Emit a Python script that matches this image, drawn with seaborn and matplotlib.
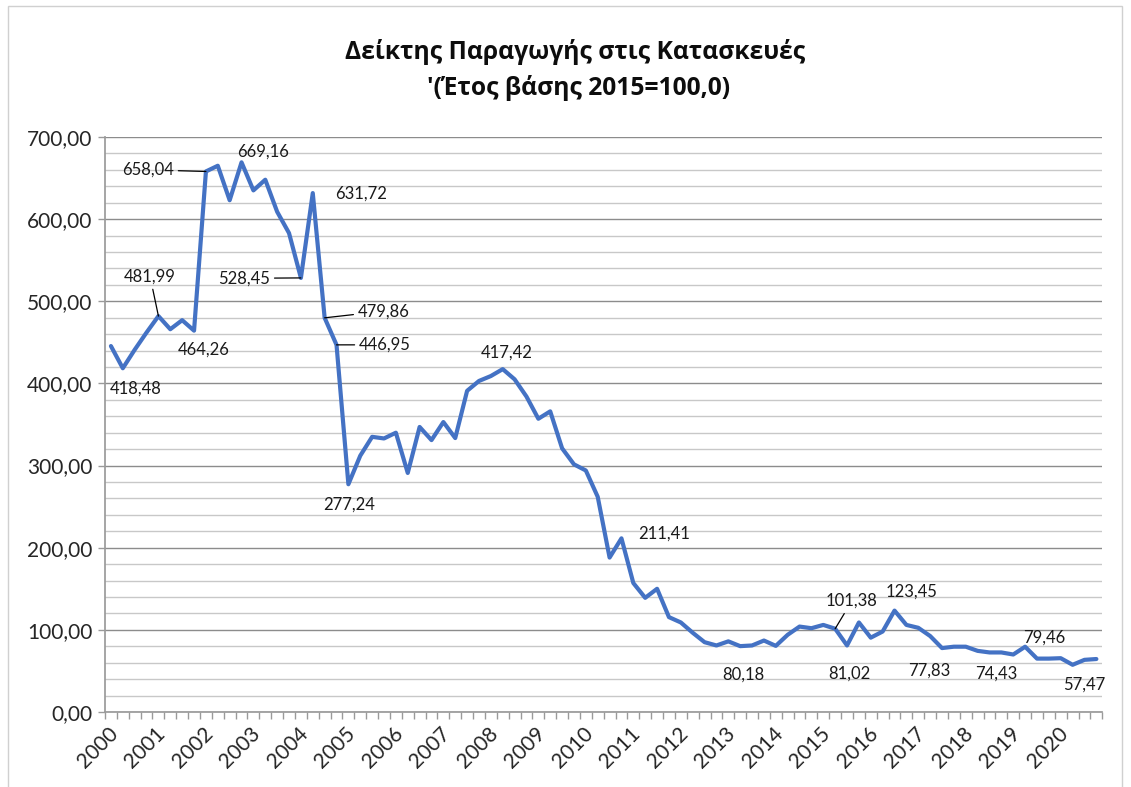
import matplotlib
matplotlib.use("Agg")
import matplotlib.pyplot as plt
import matplotlib.transforms as mtransforms
import seaborn as sns
import numpy as np
import pandas as pd
from matplotlib.patches import Rectangle
from matplotlib.ticker import MultipleLocator, FuncFormatter

# quarterly index, 2000 Q1 - 2020 Q4
years = list(range(2000, 2021))
values = [
    445.5, 418.48, 441, 462, 481.99, 466, 477, 464.26,
    658.04, 665, 623, 669.16, 635, 648, 609, 583,
    528.45, 631.72, 479.86, 446.95, 277.24, 312, 335, 333,
    340, 291, 347, 331, 353, 333.5, 391, 403,
    409, 417.42, 405, 384, 357, 366, 321, 301.5,
    294, 262, 188, 211.41, 157, 139, 150, 115.5,
    109, 96.5, 85, 81, 86, 80.18, 81, 87,
    80.5, 94, 104, 102, 106, 101.38, 81.02, 109,
    90.5, 98, 123.45, 106, 102.5, 92.5, 77.83, 79.5,
    79.5, 74.43, 72.5, 72.5, 70, 79.46, 65, 65,
    65.5, 57.47, 63.5, 64.5,
]

# labelled points: (index, text x, text y, leader line)
label_idx = [8, 11, 17, 4, 7, 1, 16, 18, 19, 20, 33, 43, 53, 61, 62, 66, 70, 73, 77, 81]
label_tx = [3.1, 12.8, 21.1, 3.3, 7.8, 2.1, 11.2, 23.0, 23.1, 20.1, 33.3, 46.6, 53.3, 62.4, 62.2, 67.4, 68.9, 74.6, 78.6, 82.0]
label_ty = [660, 682, 631, 530, 441, 394, 528, 488, 447, 252, 437, 217, 45, 135, 47, 146, 50, 47, 91, 33]
label_leader = [True, False, False, True, False, False, True, True, True, False,
                False, False, False, True, False, False, False, False, False, False]

df = pd.DataFrame({"q": np.arange(len(values)), "value": values})

sns.set_theme(style="white")
plt.rcParams["font.family"] = ["Lato", "Noto Sans", "DejaVu Sans"]

fig = plt.figure(figsize=(11.31, 7.87), dpi=100)
W, H = 1131, 787
ax = fig.add_axes([105 / W, 1 - 712 / H, (1102.3 - 105) / W, (712 - 137) / H])

sns.lineplot(data=df, x="q", y="value", ax=ax, color="#4472C4", linewidth=3.0)

ax.set_xlim(-0.5, len(values) - 0.5)
ax.set_ylim(0, 700)
ax.set_xlabel("")
ax.set_ylabel("")

# y axis
ax.yaxis.set_major_locator(MultipleLocator(100))
ax.yaxis.set_minor_locator(MultipleLocator(20))
ax.yaxis.set_major_formatter(FuncFormatter(lambda v, p: f"{v:.2f}".replace(".", ",")))
ax.grid(True, axis="y", which="major", color="#8C8C8C", linewidth=1.0)
ax.grid(True, axis="y", which="minor", color="#C8C8C8", linewidth=1.0)
ax.set_axisbelow(True)
ax.tick_params(axis="y", which="major", direction="out", length=5, width=1,
               color="#9A9A9A", labelsize=15, labelcolor="#262626", pad=4, left=True)
ax.tick_params(axis="y", which="minor", length=0)

# x axis: labels every year, tick marks between quarters
ax.set_xticks(np.arange(0, len(values), 4))
ax.set_xticklabels([str(y) for y in years])
ax.set_xticks(np.arange(-0.5, len(values), 1), minor=True)
ax.tick_params(axis="x", which="major", length=0, pad=13, labelsize=15, labelcolor="#262626")
ax.tick_params(axis="x", which="minor", direction="out", length=5, width=1,
               color="#9A9A9A", bottom=True)
shift = mtransforms.ScaledTranslation(4 / 100, 0, fig.dpi_scale_trans)
for lab in ax.get_xticklabels():
    lab.set_rotation(45)
    lab.set_ha("right")
    lab.set_va("center")
    lab.set_rotation_mode("anchor")
    lab.set_transform(lab.get_transform() + shift)

for side in ["top", "right"]:
    ax.spines[side].set_visible(False)
ax.spines["left"].set_color("#9A9A9A")
ax.spines["bottom"].set_color("#9A9A9A")

# data labels
for i, tx, ty, lead in zip(label_idx, label_tx, label_ty, label_leader):
    txt = f"{values[i]:.2f}".replace(".", ",")
    if lead:
        ax.annotate(txt, xy=(i, values[i]), xytext=(tx, ty), ha="center", va="center",
                    fontsize=12, color="#1a1a1a",
                    arrowprops=dict(arrowstyle="-", color="black", lw=0.9,
                                    shrinkA=1, shrinkB=0))
    else:
        ax.text(tx, ty, txt, ha="center", va="center", fontsize=12, color="#1a1a1a")

# title
title_font = ["Open Sans", "Noto Sans", "DejaVu Sans"]
fig.text(575 / W, 1 - 52 / H, "Δείκτης Παραγωγής στις Κατασκευές", ha="center", va="center",
         fontsize=17.7, fontweight="bold", family=title_font, color="#0d0d0d")
fig.text(579 / W, 1 - 88 / H, "'(Έτος βάσης 2015=100,0)", ha="center", va="center",
         fontsize=17.7, fontweight="bold", family=title_font, color="#0d0d0d")

# chart border
fig.patches.append(Rectangle((8 / W, -0.01), (1122 - 8) / W, 1 - 6 / H + 0.01,
                             transform=fig.transFigure, fill=False,
                             edgecolor="#D0D0D0", linewidth=1.0))

fig.savefig("out.png", dpi=100)
